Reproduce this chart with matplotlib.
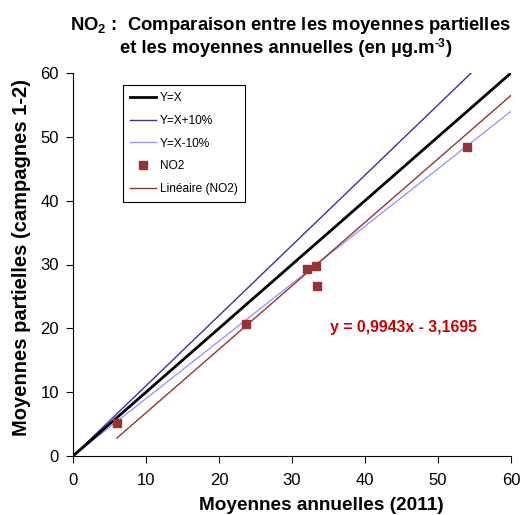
import numpy as np
import matplotlib
matplotlib.use("Agg")
import matplotlib.pyplot as plt

plt.rcParams['font.family'] = ['Liberation Sans', 'DejaVu Sans']
plt.rcParams['mathtext.fontset'] = 'custom'
plt.rcParams['mathtext.rm'] = 'Liberation Sans'
plt.rcParams['mathtext.bf'] = 'Liberation Sans:bold'

# annual means (x) vs partial means (y), NO2
annual = [6.0, 23.7, 32.0, 33.3, 33.4, 54.0]
partial = [5.2, 20.7, 29.3, 29.8, 26.6, 48.4]
slope = 0.9943
intercept = -3.1695
equation = "y = 0,9943x - 3,1695"

W, H = 523, 515
fig = plt.figure(figsize=(W / 100, H / 100), dpi=100)
ax = fig.add_axes([73 / W, 59 / H, 438 / W, 383 / H])

xs = np.array([0, 60])
ax.plot(xs, xs, color='black', lw=2, label='Y=X', zorder=3)
ax.plot(xs / 1.1, xs, color='#3333AA', lw=1, label='Y=X+10%')
ax.plot(xs, xs * 0.9, color='#9999FF', lw=1, label='Y=X-10%')
ax.plot(annual, partial, 's', color='#993333', ms=6, lw=0, label='NO2', zorder=4)
xr = np.array([min(annual), 60])
ax.plot(xr, slope * xr + intercept, color='#993333', lw=1, label='Linéaire (NO2)')

ax.text(35.2, 20.2, equation, color='#CC0000', fontsize=11.4, fontweight='bold', va='center')

ax.set_xlim(0, 60)
ax.set_ylim(0, 60)
ax.set_xticks(range(0, 61, 10))
ax.set_yticks(range(0, 61, 10))
ax.tick_params(direction='out', length=5, labelsize=12, color='black')
ax.tick_params(axis='x', pad=7)
ax.tick_params(axis='y', pad=5)
for s in ['top', 'right']:
    ax.spines[s].set_visible(False)

ax.set_xlabel('Moyennes annuelles (2011)', fontsize=13.7, fontweight='bold')
ax.set_ylabel('Moyennes partielles (campagnes 1-2)', fontsize=14.5, fontweight='bold')
ax.xaxis.set_label_coords(0.567, -0.107)
ax.yaxis.set_label_coords(-0.096, 0.517)

leg = ax.legend(loc='upper left', bbox_to_anchor=(0.114, 0.969), fontsize=8.6,
                frameon=True, fancybox=False, edgecolor='black', framealpha=1,
                labelspacing=0.9, handlelength=2.2, borderpad=0.6, handletextpad=0.3,
                borderaxespad=0)
leg.get_frame().set_linewidth(0.8)

# title, with the superscript drawn as a separate small text
fs = 13.3
fig.text(70 / W, 1 - 30 / H, r'NO$_\mathbf{2}$ :  Comparaison entre les moyennes partielles',
         fontsize=fs, fontweight='bold', ha='left', va='baseline')
t2 = fig.text(120 / W, 1 - 53 / H, 'et les moyennes annuelles (en µg.m',
              fontsize=fs, fontweight='bold', ha='left', va='baseline')
r = fig.canvas.get_renderer()
x1 = t2.get_window_extent(r).x1 / W
t3 = fig.text(x1 + 0.5 / W, 1 - 47 / H, '-3', fontsize=fs * 0.65, fontweight='bold',
              ha='left', va='baseline')
x2 = t3.get_window_extent(r).x1 / W
fig.text(x2 + 0.5 / W, 1 - 53 / H, ')', fontsize=fs, fontweight='bold', ha='left', va='baseline')

fig.savefig('out.png', dpi=100)
